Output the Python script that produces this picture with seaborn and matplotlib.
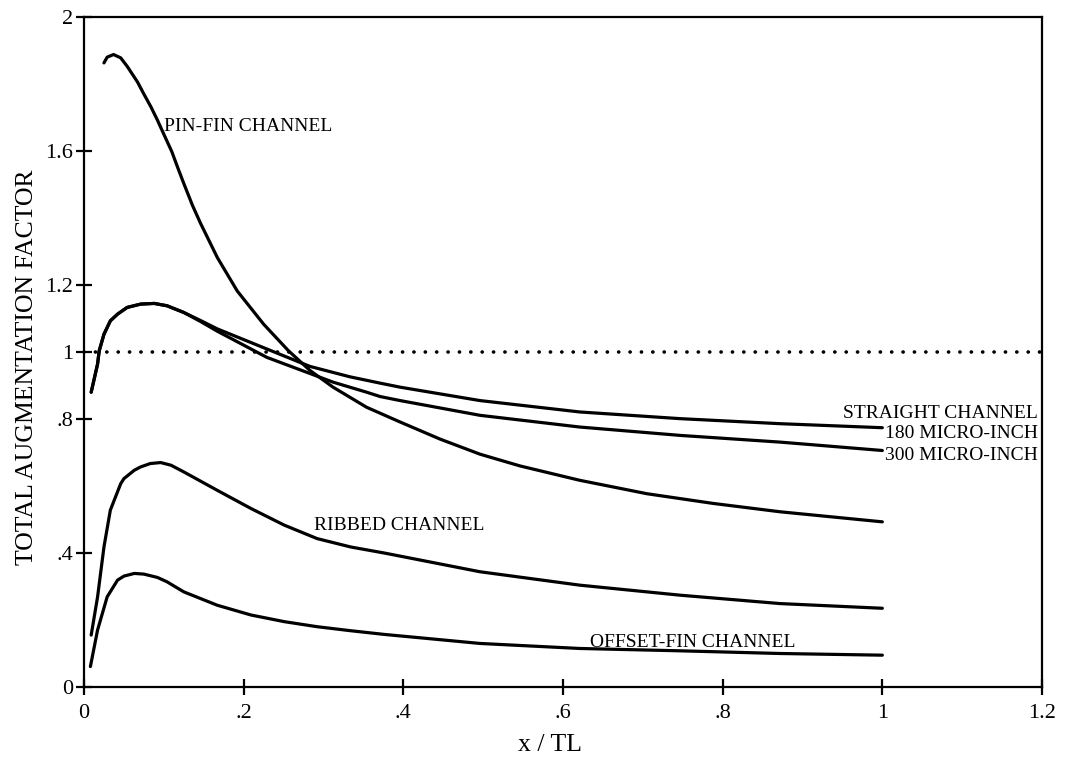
import matplotlib
matplotlib.use("Agg")
import matplotlib.pyplot as plt
import seaborn as sns
import pandas as pd

# ---- data ----
pin_x = [0.025, 0.029, 0.037, 0.046, 0.054, 0.067, 0.075, 0.084, 0.092, 0.100, 0.110, 0.117,
         0.125, 0.136, 0.146, 0.167, 0.192, 0.225, 0.256, 0.283, 0.312, 0.354, 0.396, 0.446,
         0.496, 0.546, 0.621, 0.705, 0.788, 0.872, 1.0]
pin_y = [1.863, 1.880, 1.888, 1.878, 1.853, 1.806, 1.770, 1.731, 1.692, 1.650, 1.598, 1.553,
         1.503, 1.437, 1.384, 1.282, 1.182, 1.083, 1.004, 0.945, 0.895, 0.835, 0.791, 0.740,
         0.695, 0.660, 0.617, 0.577, 0.548, 0.523, 0.493]

s180_x = [0.009, 0.017, 0.019, 0.025, 0.033, 0.042, 0.054, 0.071, 0.088, 0.104, 0.125, 0.146,
          0.167, 0.229, 0.283, 0.333, 0.371, 0.396, 0.496, 0.621, 0.747, 0.872, 1.0]
s180_y = [0.880, 0.964, 1.003, 1.053, 1.093, 1.113, 1.133, 1.143, 1.145, 1.138, 1.118, 1.094,
          1.069, 1.009, 0.957, 0.926, 0.907, 0.895, 0.855, 0.821, 0.801, 0.786, 0.774]

s300_x = [0.009, 0.017, 0.019, 0.025, 0.033, 0.042, 0.054, 0.071, 0.088, 0.104, 0.125, 0.146,
          0.167, 0.229, 0.312, 0.354, 0.371, 0.396, 0.496, 0.621, 0.747, 0.872, 1.0]
s300_y = [0.880, 0.964, 1.003, 1.053, 1.093, 1.113, 1.133, 1.143, 1.145, 1.138, 1.118, 1.091,
          1.062, 0.984, 0.910, 0.880, 0.867, 0.855, 0.811, 0.776, 0.751, 0.731, 0.706]

rib_x = [0.009, 0.017, 0.025, 0.033, 0.046, 0.050, 0.063, 0.071, 0.083, 0.096, 0.109, 0.125,
         0.167, 0.209, 0.251, 0.292, 0.334, 0.376, 0.496, 0.621, 0.747, 0.872, 1.0]
rib_y = [0.155, 0.269, 0.418, 0.528, 0.607, 0.622, 0.647, 0.657, 0.667, 0.670, 0.662, 0.642,
         0.587, 0.533, 0.483, 0.443, 0.418, 0.400, 0.344, 0.304, 0.274, 0.249, 0.235]

off_x = [0.008, 0.017, 0.029, 0.042, 0.050, 0.063, 0.075, 0.092, 0.104, 0.125, 0.146, 0.167,
         0.209, 0.251, 0.292, 0.334, 0.376, 0.496, 0.621, 0.747, 0.872, 1.0]
off_y = [0.061, 0.170, 0.269, 0.319, 0.331, 0.339, 0.337, 0.327, 0.314, 0.284, 0.264, 0.244,
         0.215, 0.195, 0.180, 0.168, 0.157, 0.130, 0.115, 0.108, 0.100, 0.095]

ref_x = [0.0, 1.2]
ref_y = [1.0, 1.0]

x_ticks = [0, 0.2, 0.4, 0.6, 0.8, 1.0, 1.2]
x_tick_labels = ["0", ".2", ".4", ".6", ".8", "1", "1.2"]
y_ticks = [0, 0.4, 0.8, 1.0, 1.2, 1.6, 2.0]
y_tick_labels = ["0", ".4", ".8", "1", "1.2", "1.6", "2"]

# ---- style ----
sns.set_style("ticks")
plt.rcParams["font.family"] = ["Liberation Serif", "DejaVu Serif"]
plt.rcParams["text.color"] = "black"
plt.rcParams["axes.labelcolor"] = "black"
plt.rcParams["xtick.color"] = "black"
plt.rcParams["ytick.color"] = "black"

fig = plt.figure(figsize=(10.65, 7.62), dpi=100)
ax = fig.add_axes([84 / 1065, 1 - 687 / 762, 958 / 1065, 670 / 762])

lw = 2.3
series = [(pin_x, pin_y), (s180_x, s180_y), (s300_x, s300_y), (rib_x, rib_y), (off_x, off_y)]
for xs, ys in series:
    df = pd.DataFrame({"x": xs, "y": ys})
    sns.lineplot(data=df, x="x", y="y", color="black", linewidth=lw, ax=ax,
                 legend=False, sort=False, estimator=None)

ref_df = pd.DataFrame({"x": ref_x, "y": ref_y})
sns.lineplot(data=ref_df, x="x", y="y", color="black", linewidth=2.6, ax=ax,
             legend=False, sort=False, estimator=None)
ax.lines[-1].set_linestyle((0, (0.05, 3.1)))
ax.lines[-1].set_dash_capstyle("round")

ax.set_xlim(0, 1.2)
ax.set_ylim(0, 2)
ax.set_xticks(x_ticks)
ax.set_xticklabels(x_tick_labels)
ax.set_yticks(y_ticks)
ax.set_yticklabels(y_tick_labels)

for side in ["left", "right", "top", "bottom"]:
    ax.spines[side].set_visible(True)
    ax.spines[side].set_color("black")
    ax.spines[side].set_linewidth(1.6)

ax.tick_params(axis="both", which="major", direction="inout", length=12, width=1.6,
               colors="black", labelsize=16, bottom=True, left=True, top=False, right=False)
ax.tick_params(axis="x", pad=6)
ax.tick_params(axis="y", pad=2)

ax.set_xlabel("x / TL", fontsize=18.5, color="black")
ax.set_ylabel("TOTAL AUGMENTATION FACTOR", fontsize=18.5, color="black")
ax.xaxis.set_label_coords(0.486, -0.070)
ax.yaxis.set_label_coords(-0.048, 0.477)

fs = 14
kw = dict(fontsize=fs, va="baseline", color="black")
ax.text(0.100, 1.659, "PIN-FIN CHANNEL", ha="left", **kw)
ax.text(0.288, 0.468, "RIBBED CHANNEL", ha="left", **kw)
ax.text(0.634, 0.120, "OFFSET-FIN CHANNEL", ha="left", **kw)
ax.text(1.195, 0.804, "STRAIGHT CHANNEL", ha="right", **kw)
ax.text(1.195, 0.744, "180 MICRO-INCH", ha="right", **kw)
ax.text(1.195, 0.677, "300 MICRO-INCH", ha="right", **kw)

fig.savefig("out.png", dpi=100, facecolor="white")
